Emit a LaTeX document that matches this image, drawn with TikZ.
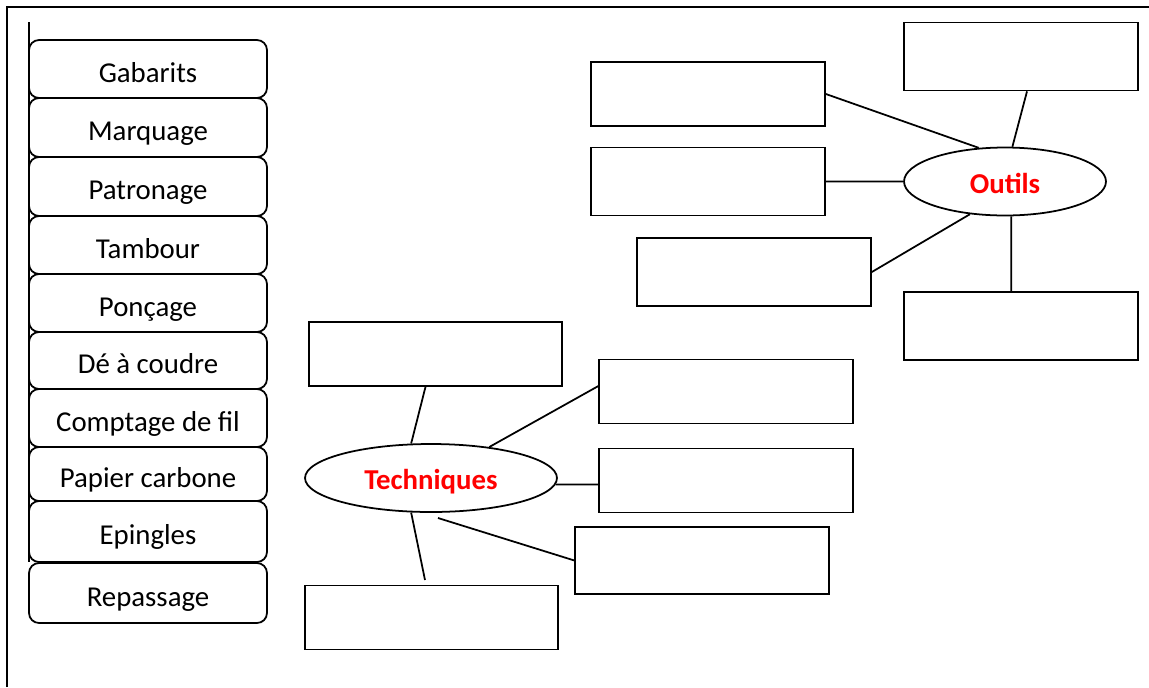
\documentclass[tikz,border=0pt]{standalone}
\usepackage{fontspec}
\setmainfont{Carlito}
\usetikzlibrary{shapes.geometric, calc, positioning}

\begin{document}
\begin{tikzpicture}[x=0.02cm, y=-0.02cm, line width=1pt,
        item/.style={draw, rounded corners=0.2cm, minimum width=4.76cm, inner sep=0pt, text height=0.6cm, text depth=0.08cm, font=\fontsize{16.4}{19}\selectfont},
        blank/.style={draw, rectangle, minimum width=4.68cm, minimum height=1.36cm, inner sep=0pt},
        wide/.style={blank, minimum width=5.07cm, minimum height=1.28cm},
        hub/.style={draw, ellipse, inner sep=0pt, minimum height=1.36cm, text height=0.55cm, text depth=0.08cm, text=red, font=\fontsize{16.4}{19}\selectfont\bfseries}]
                        \useasboundingbox (0,0) rectangle (1149,687);
                        \draw (7,687) -- (7,7) -- (1149,7);
                        \draw (29,22) -- (29,562);

                        \foreach \t/\y/\h [count=\i] in {Gabarits/69/1.16, Marquage/127.5/1.18, Patronage/186.5/1.18, Tambour/245/1.16, Ponçage/303/1.16, Dé à coudre/360.5/1.14, Comptage de fil/418/1.16, Papier carbone/474/1.08, Epingles/531.5/1.22, Repassage/593/1.20} {
                            \node[item, minimum height=\h cm] (m-\i) at (148, \y) {\t};
                        }

                        \node[hub, minimum width=4.04cm] (outils) at (1005, 181.5) {Outils};
                        \node[blank, minimum height=1.28cm] (o1) at (708, 94) {};
                        \node[blank] (o2) at (708, 181.5) {};
                        \node[blank] (o3) at (754, 272) {};
                        \node[blank] (o4) at (1021, 56.5) {};
                        \node[blank] (o5) at (1021, 326) {};

                        \node[hub, minimum width=5.04cm] (tech) at (431, 478) {Techniques};
                        \node[wide] (t1) at (435.5, 354) {};
                        \node[wide] (t2) at (726, 391.5) {};
                        \node[wide] (t3) at (726, 480.5) {};
                        \node[wide, minimum height=1.34cm] (t4) at (702, 560.5) {};
                        \node[wide] (t5) at (431.5, 617.5) {};
                        \coordinate (t4end) at (438, 518);
                        \coordinate (t5end) at (425, 580);

                        \draw
                        (o1.east) -- (outils.128)
                        ([xshift=0.12cm]o4.south) -- (outils.78)
                        (o2.east) -- (outils.west)
                        (o3.east) -- (outils.223)
                        (outils.280) -- (outils.280 |- o5.north);

                        \draw
                        ([xshift=-0.2cm]t1.south) -- (tech.120)
                        (tech.28) -- ([yshift=0.11cm]t2.west)
                        (tech.-3) -- (tech.-3 -| t3.west)
                        (t4end) -- (t4.west)
                        (tech.240) -- (t5end);
                    \end{tikzpicture}
\end{document}
